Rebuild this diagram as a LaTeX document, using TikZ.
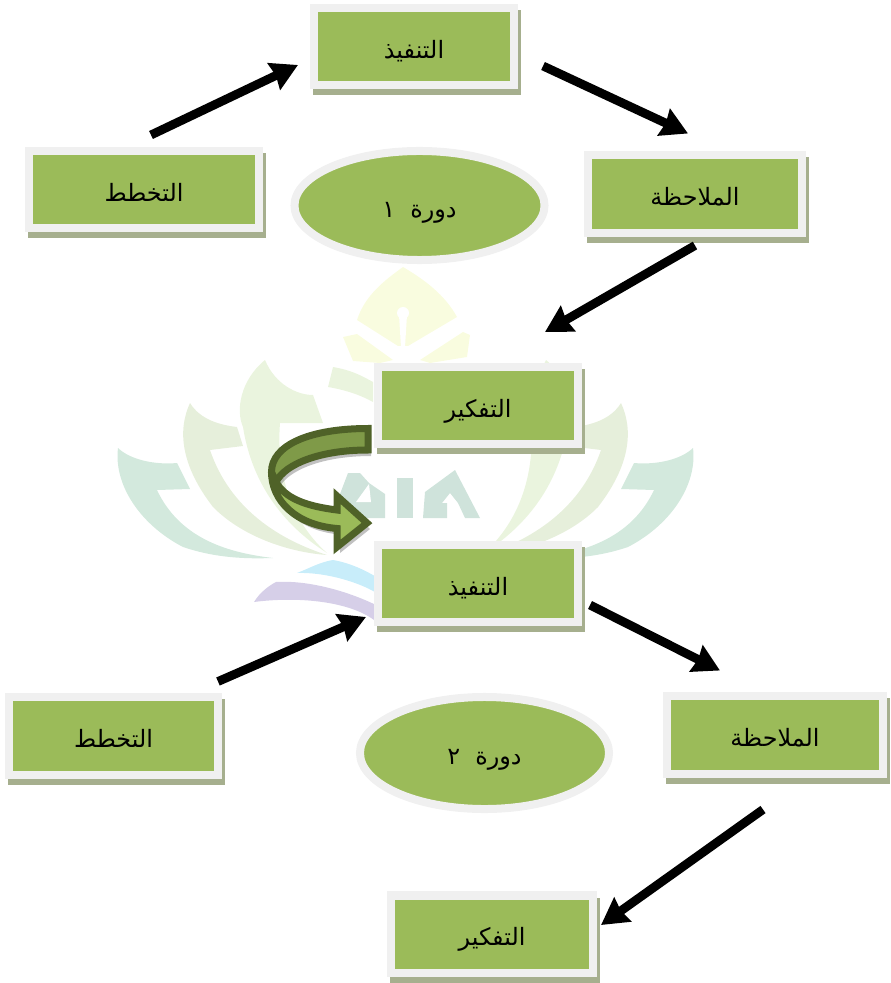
\documentclass[tikz,border=0pt]{standalone}
\usepackage{fontspec}
\newfontfamily\arabicfont[Script=Arabic]{DejaVu Sans}
\TeXXeTstate=1
\usepackage{xcolor}
\definecolor{cycleGreen}{HTML}{9BBB59}
\definecolor{cycleRim}{HTML}{F0F0F0}
\definecolor{cycleShade}{HTML}{A6AF8E}
\definecolor{bendDark}{HTML}{4F6228}
\definecolor{bendMid}{HTML}{7F9A48}
\definecolor{markYellow}{HTML}{F9FCDF}
\definecolor{markLeaf}{HTML}{EAF4DE}
\definecolor{markSage}{HTML}{E6EFDB}
\definecolor{markTeal}{HTML}{D3E9DD}
\definecolor{markLetter}{HTML}{CFE3DB}
\definecolor{markBlue}{HTML}{C8EDFA}
\definecolor{markLilac}{HTML}{D6CFE8}
\usepackage{tikz}
\usetikzlibrary{shapes.geometric, arrows.meta, shadows}
\newcommand{\artext}[1]{\arabicfont\fontsize{17}{20}\selectfont\beginR #1\endR}
\newcommand{\bendLow}{(271.5,472) .. controls (271.5,500) and (295,525) .. (337,528.5) -- (337,547) -- (367,523) -- (337,496) -- (337,510) .. controls (305,506) and (285,498) .. (276,482) -- cycle}
\newcommand{\bendUp}{(368,428.5) .. controls (310,428.5) and (271.5,445) .. (271.5,472) -- (276,482) .. controls (285,464) and (320,450) .. (368,450) -- cycle}

\begin{document}
\begin{tikzpicture}[
  x=0.025cm, y=-0.025cm,
  stagebox/.style={draw=cycleRim, fill=cycleGreen, line width=0.2cm,
    minimum height=1.925cm, align=center, text height=17pt, text depth=0pt,
    general shadow={shadow xshift=0.08cm, shadow yshift=-0.15cm, draw=cycleShade, fill=cycleShade, opacity=1}},
  cyclebox/.style={ellipse, draw=cycleRim, fill=cycleGreen, line width=0.2cm, align=center, inner sep=0pt,
    text height=17pt, text depth=0pt},
  arrow/.style={-{Stealth[length=0.66cm, width=0.72cm, inset=0.05cm]}, line width=0.22cm, color=black},
  bendband/.style={draw=bendDark, line width=0.175cm, miter limit=4}
]
  \useasboundingbox (0,0) rectangle (891,983);

  % Watermark
  \foreach \side in {1,-1} {
    \begin{scope}[shift={(405.5,0)}, xscale=\side]
      \fill[markTeal] (-287.5,448) .. controls (-292,485) and (-265,525) .. (-222.5,547) .. controls (-190,558) and (-160,559) .. (-132.5,558)
        .. controls (-175,553) and (-225,540) .. (-248.5,490) -- (-215.5,489) -- (-228.5,463) .. controls (-250,465) and (-275,460) .. cycle;
      \fill[markSage] (-215.5,403) .. controls (-228,430) and (-225,465) .. (-192.5,507) .. controls (-165,535) and (-120,552) .. (-78.5,555)
        .. controls (-125,540) and (-175,510) .. (-195.5,450) -- (-162.5,446) -- (-168.5,427) .. controls (-185,425) and (-205,420) .. cycle;
      \fill[markLeaf] (-140.5,360) .. controls (-165,380) and (-170,410) .. (-162.5,427) .. controls (-155,475) and (-130,520) .. (-78.5,553)
        .. controls (-110,525) and (-130,480) .. (-125.5,423) -- (-82.5,423) -- (-92.5,395) .. controls (-108,395) and (-130,385) .. cycle;
      \fill[markLeaf] (-72.5,367) .. controls (-55,370) and (-45,375) .. (-32.5,382) -- (-32.5,402) .. controls (-45,395) and (-60,390) .. (-77.5,387) -- cycle;
    \end{scope}
  }
  \fill[markYellow] (403,267) .. controls (385,280) and (365,295) .. (357,320) -- (398,346) -- (408,346) -- (457,317) .. controls (445,295) and (425,280) .. (403,267) -- cycle;
  \fill[white] (403,313) circle (6);
  \fill[white] (399,315) -- (407,315) -- (405,347) -- (401,347) -- cycle;
  \fill[markYellow] (343,337) -- (357,334) -- (393,360) -- (380,363) -- (353,361) -- cycle;
  \fill[markYellow] (470,335) -- (463,332) -- (420,360) -- (430,363) -- (467,357) -- cycle;
  % UIA letters
  \fill[markLetter] (348,473) -- (360,473) -- (369,483) -- (385,494) -- (385,518) -- (340,518) -- (340,494) -- cycle;
  \fill[white] (356,502) -- (369,484) -- (371,502) -- cycle;
  \fill[markLetter] (397,478) rectangle (413,518);
  \fill[markLetter] (423,518) -- (425,492) -- (455,470) -- (480,518) -- (465,518) -- (458,503) -- (450,493) -- (442,503) -- (447,503) -- (447,518) -- cycle;
  \fill[markBlue] (297,573) .. controls (310,568) and (320,562) .. (333,560) .. controls (350,563) and (365,570) .. (378,578) -- (378,594) .. controls (365,585) and (330,572) .. (297,573) -- cycle;
  \fill[markLilac] (254,602) .. controls (260,592) and (270,585) .. (276,582) .. controls (310,580) and (350,592) .. (378,606) -- (374,620) .. controls (350,602) and (300,596) .. (254,602) -- cycle;

  % Nodes
  \node[stagebox, minimum width=5cm] (do1) at (414,46.5) {\artext{التنفيذ}};
  \node[stagebox, minimum width=5.75cm] (plan1) at (144,189.5) {\artext{التخطط}};
  \node[stagebox, minimum width=5.35cm] (obs1) at (695,194) {\artext{الملاحظة}};
  \node[cyclebox, minimum width=6.25cm, minimum height=2.725cm] (cycle1) at (419.5,205.5) {\artext{دورة\ \ ١}};
  \node[stagebox, minimum width=5cm] (think1) at (478,405.5) {\artext{التفكير}};
  \node[stagebox, minimum width=5cm] (do2) at (478,583.5) {\artext{التنفيذ}};
  \node[stagebox, minimum width=5.225cm] (plan2) at (113.5,736) {\artext{التخطط}};
  \node[stagebox, minimum width=5.4cm] (obs2) at (775,735) {\artext{الملاحظة}};
  \node[cyclebox, minimum width=6.225cm, minimum height=2.8cm] (cycle2) at (484.5,753) {\artext{دورة\ \ ٢}};
  \node[stagebox, minimum width=5.05cm] (think2) at (492,934) {\artext{التفكير}};

  % Arrows
  \draw[arrow] ([shift={(7,-12)}]plan1.north) -- ([shift={(-12,18.5)}]do1.west);
  \draw[arrow] ([shift={(25,19.5)}]do1.east) -- ([shift={(-7,-18)}]obs1.north);
  \draw[arrow] ([shift={(0,9)}]obs1.south) -- ([shift={(67,-31)}]think1.north);
  \draw[arrow] ([shift={(104.5,-12)}]plan2.north) -- ([shift={(-8,33.5)}]do2.west);
  \draw[arrow] ([shift={(8,21.5)}]do2.east) -- ([shift={(-55,-22)}]obs2.north);
  \draw[arrow] ([shift={(-12,32)}]obs2.south) -- ([shift={(4,-9)}]think2.east);

  % Curved arrow
  \begin{scope}[shift={(3,6)}, opacity=0.35]
    \fill[black!70] \bendLow;
    \fill[black!70] \bendUp;
  \end{scope}
  \path[bendband, fill=cycleGreen] \bendLow;
  \path[bendband, fill=bendMid] \bendUp;
\end{tikzpicture}
\end{document}
